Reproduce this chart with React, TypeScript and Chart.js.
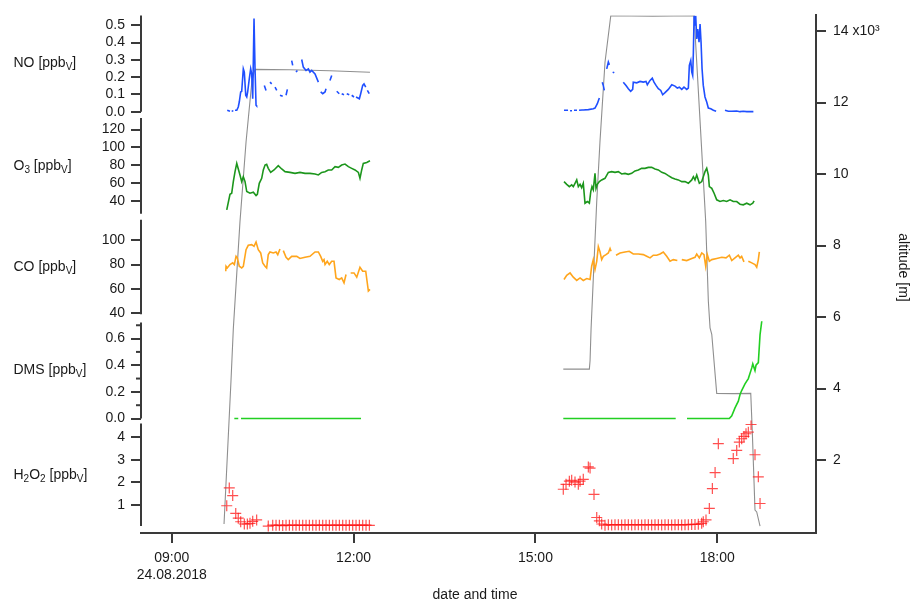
import { useEffect, useRef } from 'react';
import { Chart, registerables } from 'chart.js';

Chart.register(...registerables);

type P = [number, number | null];

// time axis: minutes after midnight of 24.08.2018
const X_MIN = 509.5;
const X_MAX = 1177.8;
const X_TICKS = [540, 720, 900, 1080];
const X_TICK_LABELS: (string | string[])[] = [['09:00', '24.08.2018'], '12:00', '15:00', '18:00'];

const NO_TICKS = [0, 0.1, 0.2, 0.3, 0.4, 0.5];
const O3_TICKS = [40, 60, 80, 100, 120];
const CO_TICKS = [40, 60, 80, 100];
const DMS_TICKS = [0, 0.2, 0.4, 0.6];
const DMS_MINOR = [0.1, 0.3, 0.5, 0.7];
const H2O2_TICKS = [1, 2, 3, 4];
const ALT_TICKS = [2000, 4000, 6000, 8000, 10000, 12000, 14000];

// altitude [m]
const ALT_DATA: P[] = [
  [591.7, 210], [598.6, 4220], [600.9, 5670], [607.5, 8670], [613.5, 10900], [619.4, 12630], [622.4, 12930],
  [657.0, 12920], [696.6, 12890], [736.2, 12850],
  [830, null],
  [927.6, 4545], [953.4, 4545], [954.1, 4780], [955.1, 5670], [960.7, 9230], [963.9, 10900], [968.9, 13130],
  [974.6, 14430], [1016.0, 14420], [1057.1, 14430], [1063.0, 11490], [1068.6, 8670], [1071.2, 6450],
  [1072.9, 5700], [1074.6, 5520], [1079.5, 3865], [1096.0, 3860], [1113.2, 3865], [1114.8, 2740],
  [1117.4, 600], [1119.1, 550], [1122.4, 150],
];

// NO [ppbV]
const NO_DATA: P[] = [
  [594.9, 0.008], [597.6, 0.002], [598.5, null], [599.3, 0.005], [600.9, 0.002], [601.5, null], [602.6, 0.008],
  [604.3, 0.008], [605.8, 0.027], [606.8, 0.056], [608.2, 0.114], [609.2, 0.118], [610.8, 0.248], [611.8, 0.229],
  [613.2, 0.095], [614.2, 0.085], [615.1, 0.114], [616.7, 0.19], [618.1, 0.248], [619.1, 0.219], [620.1, 0.075],
  [621.4, 0.54], [622.4, 0.248], [623.4, 0.037], [624.0, 0.033], [627, null],
  [631.6, 0.152], [633.3, 0.123], [635, null], [637.2, 0.171], [638.9, 0.161], [640.5, null], [642.2, 0.142],
  [643.9, 0.123], [645.5, null], [647.1, 0.095], [649.8, 0.089], [651, null], [653.1, 0.095], [654.4, 0.129],
  [656, null], [658.7, 0.296], [659.7, 0.268], [661, null], [663.0, 0.229], [664.3, 0.239], [666.5, null],
  [668.6, 0.302], [670.2, 0.258], [672.9, 0.239], [675.2, 0.248], [676.8, 0.229], [678.5, 0.239], [681.8, 0.219],
  [685.1, 0.171], [686.3, null], [687.4, 0.114], [689.4, 0.104], [691.7, 0.114], [692.7, 0.133], [694.5, null],
  [696.6, 0.181], [698.3, 0.21], [701, null], [703.3, 0.118], [705.8, 0.104], [707, null], [708.2, 0.104],
  [710.5, 0.098], [711.8, null], [713.2, 0.104], [715.7, 0.098], [716.9, null], [718.1, 0.095], [720.4, 0.085],
  [721.4, null], [722.4, 0.085], [725.7, 0.075], [727.0, 0.104], [729.0, 0.152], [730.3, 0.161], [732.0, 0.142],
  [732.8, null], [733.6, 0.123], [735.5, 0.104],
  [830, null],
  [928.3, 0.008], [932.3, 0.008], [933.2, null], [934.3, 0.005], [936.2, 0.005], [937.2, null], [938.2, 0.008],
  [941.2, 0.008], [942.2, null], [943.2, 0.008], [946.1, 0.01], [947.4, 0.01], [952.4, 0.012], [957.3, 0.017],
  [959.0, 0.021], [961.3, 0.046], [963.3, 0.079], [964.5, null], [966.2, 0.171], [967.2, 0.152], [968.2, 0.123],
  [969.5, null], [970.6, 0.248], [972.2, 0.287], [973.2, 0.271], [974.5, null], [976.5, 0.229], [978.1, 0.225],
  [982, null], [987.0, 0.171], [989.7, 0.152], [992.0, 0.133], [994.3, 0.118], [996.3, 0.129], [996.9, 0.171],
  [1000.3, 0.167], [1003.6, 0.175], [1006.8, 0.171], [1009.5, 0.175], [1010.8, 0.156], [1013.5, 0.181],
  [1015.7, 0.194], [1017.4, 0.171], [1019.4, 0.152], [1021.7, 0.133], [1024.1, 0.123], [1026.0, 0.098],
  [1028.3, 0.11], [1031.6, 0.129], [1035.0, 0.156], [1038.2, 0.148], [1040.5, 0.137], [1042.5, 0.142],
  [1044.9, 0.129], [1047.1, 0.142], [1049.8, 0.129], [1051.4, 0.137], [1052.4, 0.268], [1053.8, 0.296],
  [1054.8, 0.229], [1055.7, 0.21], [1056.4, 0.344], [1057.1, 0.556], [1058.0, 0.498], [1058.7, 0.556],
  [1059.7, 0.421], [1060.7, 0.479], [1062.0, 0.402], [1063.0, 0.507], [1064.0, 0.402], [1065.0, 0.248],
  [1066.2, 0.152], [1067.9, 0.085], [1069.6, 0.056], [1071.2, 0.021], [1073.6, 0.017], [1076.2, 0.008],
  [1078.9, 0.002], [1082, null], [1087.7, 0.008], [1091.0, 0.002], [1094.4, 0.002], [1099.3, 0.004],
  [1102.6, 0.0], [1105.8, 0.002], [1109.2, 0.0], [1112.5, 0.0], [1115.8, 0.0],
];

// O3 [ppbV]
const O3_DATA: P[] = [
  [594.4, 30.4], [597.6, 47.8], [599.3, 48.9], [600.9, 61.9], [602.6, 73], [604.3, 82.2], [607.5, 69.3],
  [609.2, 61.9], [610.8, 67.4], [612.5, 61.9], [614.2, 50.8], [617.4, 48.9], [620.7, 50], [623.4, 46.3],
  [624.7, 47.8], [626.6, 60], [629.0, 65.6], [630.6, 74.9], [632.3, 80.4], [633.9, 81.1], [635.5, 76.7],
  [637.9, 72.2], [641.2, 74.9], [645.4, 79.7], [648.8, 76], [652.1, 73], [657.0, 72.2], [662.0, 71.1],
  [666.9, 72.2], [671.9, 71.1], [676.8, 71.1], [681.8, 70.4], [685.1, 69.3], [688.4, 72.2], [691.7, 73],
  [694.9, 74.9], [698.3, 74.9], [701.6, 78.6], [704.9, 77.8], [708.2, 80.4], [711.5, 81.5], [714.8, 78.6],
  [718.1, 76.7], [721.4, 74.9], [724.7, 72.2], [726.3, 65.6], [728.0, 74.9], [729.6, 82.2], [733.0, 83.3],
  [736.2, 85.2],
  [830, null],
  [928.3, 61.9], [931.0, 58.9], [933.6, 56.3], [935.9, 58.2], [937.5, 56.3], [939.2, 60], [940.9, 63.8],
  [942.5, 56.3], [944.2, 58.9], [945.8, 55.2], [947.4, 60], [949.1, 37.8], [951.4, 39.7], [953.4, 37.8],
  [954.8, 50.8], [956.0, 56.3], [957.3, 52.7], [959.0, 71.1], [960.0, 54.4], [961.3, 58.9], [963.3, 61.9],
  [965.6, 63.8], [968.9, 65.6], [972.2, 72.2], [975.5, 73], [978.8, 72.2], [982.1, 73], [985.4, 70.4],
  [988.7, 71.1], [992.0, 70], [995.3, 71.1], [998.6, 73.8], [1001.9, 74.9], [1005.2, 76.7], [1008.5, 76.7],
  [1011.8, 77.8], [1015.1, 77.8], [1018.4, 76], [1021.7, 74.9], [1025.1, 72.2], [1028.3, 71.1], [1031.6, 68.6],
  [1035.0, 66.3], [1038.2, 64.9], [1041.5, 63.8], [1044.9, 61.9], [1048.1, 61.9], [1051.4, 60], [1054.8, 63.8],
  [1056.4, 67.4], [1058.0, 63.8], [1059.7, 69.3], [1062.3, 60], [1064.7, 61.9], [1066.2, 67.4], [1067.9, 73],
  [1069.6, 76.7], [1071.2, 69.3], [1072.2, 56.3], [1074.6, 54.4], [1076.9, 48.9], [1079.5, 41.6], [1082.8, 39.7],
  [1086.1, 40.8], [1089.4, 39.7], [1092.7, 41.6], [1095.9, 39.7], [1099.3, 39.7], [1102.6, 36.7], [1105.8, 36],
  [1109.2, 37.8], [1112.5, 36], [1115.2, 37.8], [1116.5, 40.4],
];

// CO [ppbV]
const CO_DATA: P[] = [
  [593.4, 74.5], [593.7, 78.6], [594.9, 77.2], [597.6, 80], [600.3, 81.4], [601.9, 80], [603.6, 86.8],
  [604.9, 85.5], [606.8, 78.6], [609.2, 77.2], [610.8, 78.6], [613.5, 92.3], [615.7, 95.9], [619.1, 96.4],
  [621.4, 95], [623.4, 98.6], [625.6, 92.3], [628.0, 89.6], [630.0, 81.4], [632.3, 78.6], [633.9, 77.2],
  [635.5, 88.2], [637.2, 90.4], [640.5, 89.6], [643.2, 90.4], [644.9, 88.2], [647.1, 92.9], [648.5, null],
  [650.4, 91.5], [653.1, 86], [655.3, 84.1], [658.7, 86.8], [663.7, 86.8], [666.9, 85], [671.9, 86],
  [676.8, 86.8], [681.8, 90.4], [685.1, 90.4], [687.4, 86.8], [689.4, 82.7], [690.7, 84.1], [691.7, 80],
  [693.9, 82.7], [695.9, 80], [698.3, 82.7], [700.6, 82.7], [702.6, 69], [705.8, 67.7], [708.2, 69],
  [710.5, 64.9], [712.5, 71.8], [714.0, null], [717.1, 73.1], [720.4, 73.1], [723.1, 69.6], [726.3, 77.8],
  [729.0, 74.5], [732.0, 74.5], [734.6, 58.1], [736.2, 59.5],
  [830, null],
  [928.3, 67.7], [931.0, 71.2], [934.3, 73.1], [937.5, 69.6], [940.9, 66.9], [944.2, 69], [947.4, 66.9],
  [950.8, 68.5], [954.1, 67.7], [955.7, 78.6], [957.3, 84.1], [959.0, 75.9], [960.7, 82.7], [962.3, 94.8],
  [963.9, 90.7], [965.6, 84.1], [967.2, 86.8], [969.9, 88.2], [972.2, 89.6], [973.9, 93.2], [974.9, 91],
  [976.5, null], [979.8, 87.7], [983.8, 89.6], [988.7, 90.4], [992.9, 91], [996.9, 88.7], [1001.9, 88.7],
  [1006.8, 88.2], [1010.2, 86.8], [1013.5, 85.5], [1016.7, 87.7], [1020.1, 87.7], [1023.4, 88.7],
  [1026.6, 90.4], [1030.0, 86.8], [1033.3, 82.7], [1036.5, 84.1], [1040.5, 83.3], [1042.5, null],
  [1044.9, 84.1], [1049.8, 83.3], [1054.8, 85], [1058.0, 86], [1059.7, 88.7], [1062.3, 85.5], [1064.7, 89.6],
  [1066.9, 88.2], [1068.6, 78.6], [1070.2, 88.2], [1072.2, 82.7], [1074.6, 84.1], [1079.5, 85], [1084.5, 86],
  [1088.7, 85.5], [1092.0, 87.7], [1094.4, 83.3], [1097.6, 85.5], [1100.9, 87.7], [1102.6, 85.5],
  [1104.2, 86.8], [1106.5, 82.2], [1107.8, null], [1110.8, 82.7], [1114.2, 81.4], [1117.4, 80],
  [1119.1, 77.8], [1120.7, 84.1], [1121.7, 90.4],
];

// DMS [ppbV]
const DMS_DATA: P[] = [
  [601.9, 0], [605.8, 0], [607.0, null], [608.5, 0], [666.9, 0], [727.3, 0],
  [830, null],
  [927.6, 0], [1038.9, 0], [1044.0, null], [1050.1, 0], [1092.0, 0], [1094.4, 0.02], [1097.6, 0.08],
  [1100.9, 0.13], [1102.6, 0.18], [1104.2, 0.21], [1107.5, 0.26], [1110.8, 0.30], [1114.2, 0.38],
  [1115.2, 0.41], [1117.4, 0.36], [1118.4, 0.40], [1120.7, 0.42], [1122.4, 0.63], [1124.1, 0.73],
];

// H2O2 [ppbV]
const H2O2_DATA: P[] = [
  [594.4, 0.96], [596.9, 1.75], [600.3, 1.41], [603.3, 0.62], [605.8, 0.41], [608.2, 0.25], [611.8, 0.15],
  [614.8, 0.15], [617.4, 0.18], [620.1, 0.27], [624.0, 0.33], [635.5, 0.06], [639.9, 0.10], [643.2, 0.09],
  [646.5, 0.10], [649.8, 0.08], [653.1, 0.10], [656.4, 0.09], [659.7, 0.10], [663.0, 0.09], [666.3, 0.10],
  [669.6, 0.09], [672.9, 0.09], [676.2, 0.10], [679.5, 0.09], [682.8, 0.10], [686.1, 0.09], [689.4, 0.10],
  [692.7, 0.09], [696.0, 0.10], [699.3, 0.09], [702.6, 0.10], [705.9, 0.10], [709.2, 0.09], [712.5, 0.10],
  [715.8, 0.09], [719.1, 0.10], [722.4, 0.10], [725.7, 0.09], [729.0, 0.10], [732.3, 0.10], [735.6, 0.09],
  [927.6, 1.69], [930.3, 1.91], [933.6, 2.05], [935.9, 2.09], [939.2, 2.01], [942.5, 1.91], [944.2, 2.05],
  [947.4, 2.13], [952.4, 2.68], [954.1, 2.63], [958.0, 1.46], [960.7, 0.44], [963.3, 0.29], [965.6, 0.15],
  [968.9, 0.10], [972.2, 0.12], [975.5, 0.11], [978.8, 0.12], [982.1, 0.12], [985.4, 0.11], [988.7, 0.12],
  [992.0, 0.12], [995.3, 0.11], [998.6, 0.12], [1001.9, 0.12], [1005.2, 0.11], [1008.5, 0.12], [1011.8, 0.12],
  [1015.1, 0.11], [1018.4, 0.12], [1021.7, 0.12], [1025.0, 0.11], [1028.3, 0.12], [1031.6, 0.12],
  [1034.9, 0.11], [1038.2, 0.12], [1041.5, 0.12], [1044.8, 0.11], [1048.1, 0.12], [1051.4, 0.12],
  [1054.7, 0.13], [1058.0, 0.13], [1061.3, 0.14], [1064.6, 0.18], [1066.2, 0.25], [1068.9, 0.33],
  [1072.2, 0.84], [1075.2, 1.72], [1077.9, 2.43], [1081.1, 3.71], [1095.9, 3.05], [1099.3, 3.41],
  [1101.9, 3.78], [1104.2, 3.93], [1106.5, 4.03], [1108.5, 4.15], [1110.8, 4.22], [1113.5, 4.56],
  [1117.4, 3.22], [1120.7, 2.24], [1122.4, 1.06],
];

const FONT = '"Liberation Sans", Arial, Helvetica, sans-serif';
const AXIS = '#3a3a3a';
const TEXT = '#1a1a1a';

type Part = { t: string; sub?: boolean };

const LEFT_AXES = [
  { id: 'yNO', weight: 5, stackWeight: 100, min: -0.019, max: 0.5577, line: [0, 0.5577], ticks: NO_TICKS,
    fmt: (v: number) => v.toFixed(1), title: [{ t: 'NO [ppb' }, { t: 'V', sub: true }, { t: ']' }] as Part[] },
  { id: 'yO3', weight: 4, stackWeight: 102, min: 23.0, max: 136.3, line: [26, 133], ticks: O3_TICKS,
    fmt: (v: number) => String(v), title: [{ t: 'O' }, { t: '3', sub: true }, { t: ' [ppb' }, { t: 'V', sub: true }, { t: ']' }] as Part[] },
  { id: 'yCO', weight: 3, stackWeight: 102, min: 35.9, max: 119.7, line: [39, 117], ticks: CO_TICKS,
    fmt: (v: number) => String(v), title: [{ t: 'CO [ppb' }, { t: 'V', sub: true }, { t: ']' }] as Part[] },
  { id: 'yDMS', weight: 2, stackWeight: 103, min: -0.0149, max: 0.7545, line: [0, 0.72], ticks: DMS_TICKS,
    fmt: (v: number) => v.toFixed(1), title: [{ t: 'DMS [ppb' }, { t: 'V', sub: true }, { t: ']' }] as Part[] },
  { id: 'yH2O2', weight: 1, stackWeight: 113, min: -0.248, max: 4.737, line: [0.06, 4.6], ticks: H2O2_TICKS,
    fmt: (v: number) => String(v), title: [{ t: 'H' }, { t: '2', sub: true }, { t: 'O' }, { t: '2', sub: true }, { t: ' [ppb' }, { t: 'V', sub: true }, { t: ']' }] as Part[] },
];

const toXY = (d: P[]) => d.map(([x, y]) => ({ x, y }));

function drawRich(ctx: CanvasRenderingContext2D, parts: Part[], x: number, y: number) {
  let cx = x;
  for (const p of parts) {
    ctx.font = `${p.sub ? 10 : 14}px ${FONT}`;
    ctx.fillText(p.t, cx, p.sub ? y + 4 : y);
    cx += ctx.measureText(p.t).width;
  }
}

const decorPlugin = {
  id: 'decor',
  afterDraw(chart: any) {
    const ctx: CanvasRenderingContext2D = chart.ctx;
    ctx.save();
    ctx.strokeStyle = AXIS;
    ctx.fillStyle = TEXT;
    ctx.lineWidth = 2;
    ctx.textBaseline = 'middle';
    ctx.textAlign = 'left';
    for (const a of LEFT_AXES) {
      const s = chart.scales[a.id];
      const y1 = s.getPixelForValue(a.line[1]);
      const y2 = s.getPixelForValue(a.line[0]);
      ctx.beginPath();
      ctx.moveTo(s.right, y1);
      ctx.lineTo(s.right, y2);
      ctx.stroke();
      drawRich(ctx, a.title, 13.5, (y1 + y2) / 2);
    }
    const d = chart.scales.yDMS;
    for (const v of DMS_MINOR) {
      const y = d.getPixelForValue(v);
      ctx.beginPath();
      ctx.moveTo(d.right - 5, y);
      ctx.lineTo(d.right, y);
      ctx.stroke();
    }
    ctx.font = `14px ${FONT}`;
    ctx.textAlign = 'center';
    ctx.fillText('date and time', 475, 595);
    ctx.translate(903, 267.5);
    ctx.rotate(Math.PI / 2);
    ctx.fillText('altitude [m]', 0, 0);
    ctx.restore();
  },
};

export default function App() {
  const ref = useRef<HTMLCanvasElement | null>(null);
  useEffect(() => {
    document.body.style.margin = '0';
    const canvas = ref.current;
    if (!canvas) return;
    const tickFont = { family: FONT, size: 14 };
    const grid = { drawOnChartArea: false, drawTicks: true, tickLength: 10, tickColor: AXIS, tickWidth: 2, lineWidth: 2, color: AXIS };
    const scales: any = {
      x: {
        type: 'linear', position: 'bottom', min: X_MIN, max: X_MAX,
        afterBuildTicks: (s: any) => { s.ticks = X_TICKS.map((v) => ({ value: v })); },
        afterFit: (s: any) => { s.height = 69; },
        border: { display: true, color: AXIS, width: 2 },
        grid,
        ticks: { font: tickFont, color: TEXT, padding: 7, autoSkip: false, maxRotation: 0,
          callback: (_v: any, i: number) => X_TICK_LABELS[i] },
      },
      yAlt: {
        type: 'linear', position: 'right', min: -40, max: 14440,
        afterBuildTicks: (s: any) => { s.ticks = ALT_TICKS.map((v) => ({ value: v })); },
        afterFit: (s: any) => { s.width = 100; },
        border: { display: true, color: AXIS, width: 2 },
        grid,
        ticks: { font: tickFont, color: TEXT, padding: 7, autoSkip: false,
          callback: (v: any) => (v === 14000 ? '14 x10\u00B3' : String(v / 1000)) },
      },
    };
    for (const a of LEFT_AXES) {
      scales[a.id] = {
        type: 'linear', position: 'left', stack: 'left', stackWeight: a.stackWeight, weight: a.weight,
        min: a.min, max: a.max,
        afterBuildTicks: (s: any) => { s.ticks = a.ticks.map((v) => ({ value: v })); },
        afterFit: (s: any) => { s.width = 141; },
        border: { display: false },
        grid,
        ticks: { font: tickFont, color: TEXT, padding: 6, autoSkip: false, callback: (v: any) => a.fmt(Number(v)) },
      };
    }
    const line = (data: P[], color: string, yAxisID: string, width = 1.6, order = 0) => ({
      data: toXY(data), borderColor: color, backgroundColor: color, borderWidth: width, yAxisID, xAxisID: 'x',
      pointRadius: 0, tension: 0, spanGaps: false, fill: false, order,
    });
    const chart = new Chart(canvas, {
      type: 'line',
      data: {
        datasets: [
          line(ALT_DATA, '#8f8f8f', 'yAlt', 1.1, 10),
          line(NO_DATA, '#1f4fff', 'yNO'),
          line(O3_DATA, '#1c961c', 'yO3'),
          line(CO_DATA, '#ffa51c', 'yCO'),
          line(DMS_DATA, '#22cf22', 'yDMS'),
          {
            data: toXY(H2O2_DATA), yAxisID: 'yH2O2', xAxisID: 'x', showLine: false,
            pointStyle: 'cross', pointRadius: 5.5, pointBorderWidth: 1.2,
            borderColor: 'rgba(255,20,20,0.75)', backgroundColor: 'rgba(255,20,20,0.75)',
            pointBorderColor: 'rgba(255,20,20,0.75)', order: 0,
          } as any,
        ],
      },
      options: {
        animation: false,
        responsive: false,
        maintainAspectRatio: false,
        layout: { padding: { top: 13, left: 0, right: 0, bottom: 0 } },
        plugins: { legend: { display: false }, tooltip: { enabled: false } },
        scales,
      } as any,
      plugins: [decorPlugin],
    });
    return () => chart.destroy();
  }, []);
  return (
    <div style={{ width: 916, height: 602, background: '#fff' }}>
      <canvas ref={ref} width={916} height={602} style={{ display: 'block' }} />
    </div>
  );
}
